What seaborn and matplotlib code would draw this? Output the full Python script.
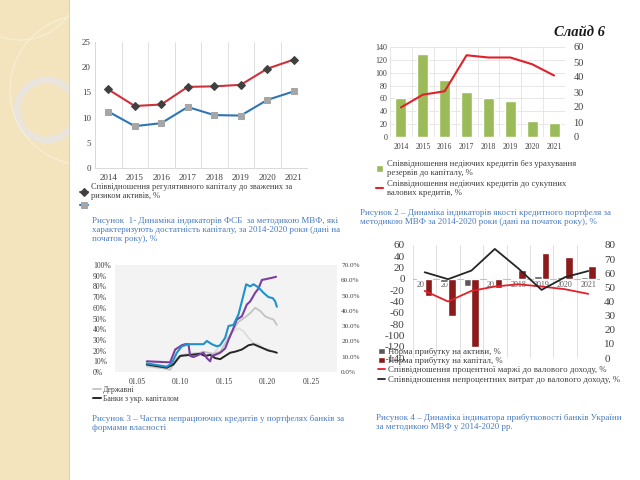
import numpy as np
import pandas as pd
import matplotlib
matplotlib.use('Agg')
import matplotlib.pyplot as plt
import seaborn as sns
from matplotlib.patches import Rectangle, Circle

# ---------------- data ----------------
years = ['2014', '2015', '2016', '2017', '2018', '2019', '2020', '2021']

# Chart 1 – capital adequacy
c1_reg_capital = [15.6, 12.3, 12.6, 16.1, 16.2, 16.5, 19.7, 21.5]
c1_tier1 = [11.2, 8.3, 8.9, 12.1, 10.5, 10.4, 13.5, 15.2]

# Chart 2 – loan quality
c2_npl_to_capital = [61, 129, 89, 70, 60, 56, 25, 22]
c2_npl_to_loans = [19.7, 28.2, 30.5, 54.5, 53, 53, 48.5, 41]

# Chart 3 – NPL share by ownership (decimal year, %)
c3_purple_t = [2006.15, 2008.83, 2009.41, 2010.17, 2010.56, 2010.94, 2011.13, 2011.51, 2012.09, 2012.66,
               2013.05, 2013.43, 2013.62, 2014.0, 2014.58, 2015.15, 2015.54, 2016.11, 2016.49, 2017.07,
               2017.64, 2018.03, 2018.6, 2018.98, 2019.37, 2019.94, 2020.52, 2021.0]
c3_purple_v = [10, 9, 21, 25, 26, 26, 15, 14, 16, 18, 13, 10, 15, 16, 18, 22, 30, 41, 49, 52,
               63, 66, 74, 78, 86, 87, 88, 89]
c3_blue_t = [2006.15, 2006.92, 2008.45, 2009.02, 2009.6, 2010.17, 2010.94, 2011.9, 2012.66, 2013.05,
             2013.62, 2014.2, 2014.58, 2015.15, 2015.54, 2016.11, 2016.69, 2017.07, 2017.57, 2018.03,
             2018.41, 2018.98, 2019.56, 2020.13, 2020.63, 2020.9, 2021.09]
c3_blue_v = [8, 7, 5, 8, 18, 24, 26, 26, 26, 29, 26, 24, 25, 32, 43, 44, 54, 66, 82, 80,
             82, 79, 74, 70, 69, 66, 61]
c3_state_t = [2006.15, 2008.45, 2008.83, 2009.6, 2010.17, 2011.51, 2012.66, 2013.81, 2014.58, 2015.34,
              2016.11, 2016.69, 2017.26, 2018.03, 2018.6, 2019.18, 2019.75, 2020.33, 2020.71, 2021.09]
c3_state_v = [6, 3, 2, 13, 16, 16, 19, 17, 19, 29, 40, 47, 50, 55, 60, 57, 52, 50, 49, 44]
c3_light_t = [2006.15, 2008.45, 2009.6, 2010.56, 2011.9, 2012.85, 2013.81, 2014.96, 2015.92, 2016.69,
              2017.26, 2017.84, 2018.41, 2018.98, 2019.56, 2020.33]
c3_light_v = [5, 3, 12, 17, 18, 16, 17, 29, 37, 41, 38, 32, 27, 26, 22, 21]
c3_ukr_t = [2006.15, 2008.45, 2009.21, 2009.98, 2011.13, 2012.28, 2012.85, 2013.43, 2014.0, 2014.58,
            2015.15, 2015.73, 2016.3, 2017.07, 2017.84, 2018.41, 2018.98, 2019.56, 2020.13, 2020.71, 2021.09]
c3_ukr_v = [7, 4, 7, 15, 16, 17, 15, 16, 13, 12, 15, 18, 19, 21, 25, 26, 24, 22, 20, 19, 18]
c3_xticks = [2005, 2010, 2015, 2020, 2025]
c3_xlabels = ['01.05', '01.10', '01.15', '01.20', '01.25']

# Chart 4 – profitability
c4_roa = [-2.5, -4.7, -12.6, -1.9, 1.7, 4.3, 3.7, 2.5]
c4_roe = [-30, -65, -120, -16, 16, 46, 38, 22]
c4_margin = [47.5, 40, 47.5, 50.6, 52.2, 50.6, 48.7, 45.4]
c4_nonint = [60.7, 55.8, 61.9, 77.2, 63.5, 48.2, 57.2, 61.6]

# ---------------- setup ----------------
sns.set_theme(style='white')
plt.rcParams['font.family'] = ['Liberation Serif', 'DejaVu Serif']
plt.rcParams['axes.unicode_minus'] = False

W, H = 640, 480
fig = plt.figure(figsize=(6.4, 4.8), dpi=100)
fig.patch.set_facecolor('white')


def axpx(l, t, r, b):
    return fig.add_axes([l / W, 1 - b / H, (r - l) / W, (b - t) / H])


def fx(x):
    return x / W


def fy(y):
    return 1 - y / H


def drop_legend(ax):
    lg = ax.get_legend()
    if lg is not None:
        lg.remove()


CAP = '#4a7dc0'
TXT = '#404040'
CAPSIZE = 6.5

# ---------------- decorative left strip ----------------
deco = fig.add_axes([0, 0, 70 / W, 1])
deco.set_xlim(0, 70)
deco.set_ylim(480, 0)
deco.axis('off')
deco.add_patch(Rectangle((0, 0), 70, 480, color='#f3e4bd', zorder=0))
deco.add_patch(Circle((47, 110), 30, fill=False, ec='#e9e5dc', lw=5, zorder=1))
deco.add_patch(Circle((85, 90), 75, fill=False, ec='#f9efd8', lw=0.8, zorder=1))
deco.add_patch(Circle((20, -20), 60, fill=False, ec='#f9efd8', lw=0.8, zorder=1))
deco.axvline(69.5, color='#ddcfa4', lw=1.2)

# ---------------- chart 1 ----------------
ax1 = axpx(95, 42, 307, 168)
idx = list(range(len(years)))
sns.lineplot(x=idx, y=c1_reg_capital, ax=ax1, color='#d0313b', lw=1.5, marker='D', markersize=4,
             markerfacecolor='#404040', markeredgecolor='#404040',
             label='Співвідношення регулятивного капіталу до зважених за\nризиком активів, %')
sns.lineplot(x=idx, y=c1_tier1, ax=ax1, color='#2e75b6', lw=1.5, marker='s', markersize=5,
             markerfacecolor='#a6a6a6', markeredgecolor='#a6a6a6', label=' ')
h1, l1 = ax1.get_legend_handles_labels()
drop_legend(ax1)
ax1.set_xlim(-0.5, 7.5)
ax1.set_ylim(0, 25)
ax1.set_yticks(range(0, 26, 5))
ax1.set_xticks(idx)
ax1.set_xticklabels(years)
ax1.set_xticks(np.arange(-0.5, 8, 1), minor=True)
ax1.grid(False)
ax1.grid(which='minor', axis='x', color='#d9d9d9', lw=0.6)
for s in ['top', 'right']:
    ax1.spines[s].set_visible(False)
for s in ['left', 'bottom']:
    ax1.spines[s].set_color('#d9d9d9')
    ax1.spines[s].set_linewidth(0.7)
ax1.tick_params(which='both', length=0, labelsize=6.5, colors=TXT)
ax1.tick_params(axis='y', pad=3)
ax1.tick_params(axis='x', pad=4)
fig.legend(h1, l1, loc='upper left', bbox_to_anchor=(fx(80), fy(183)), frameon=False, fontsize=6,
           handlelength=1.0, labelspacing=0.25, handletextpad=0.3, borderpad=0, borderaxespad=0,
           labelcolor=TXT)
fig.text(fx(92), fy(217), 'Рисунок  1- Динаміка індикаторів ФСБ  за методикою МВФ, які\n'
         'характеризують достатність капіталу, за 2014-2020 роки (дані на\n'
         'початок року), %', ha='left', va='top', fontsize=CAPSIZE, color=CAP, linespacing=1.2)

# ---------------- chart 2 ----------------
ax2 = axpx(390, 47, 565, 137)
sns.barplot(x=years, y=c2_npl_to_capital, ax=ax2, color='#9bbb59', width=0.5, saturation=1,
            label='Співвідношення недіючих кредитів без урахування\nрезервів до капіталу, %', zorder=2)
ax2b = ax2.twinx()
sns.lineplot(x=idx, y=c2_npl_to_loans, ax=ax2b, color='#e0202b', lw=1.5,
             label='Співвідношення недіючих кредитів до сукупних\nвалових кредитів, %')
h2a, l2a = ax2.get_legend_handles_labels()
h2b, l2b = ax2b.get_legend_handles_labels()
drop_legend(ax2)
drop_legend(ax2b)
ax2.set_xlim(-0.5, 7.5)
ax2.set_ylim(0, 140)
ax2.set_yticks(range(0, 141, 20))
ax2b.set_ylim(0, 60)
ax2b.set_yticks(range(0, 61, 10))
ax2.set_xticks(np.arange(-0.5, 8, 1), minor=True)
ax2.grid(False)
ax2b.grid(False)
ax2.grid(which='major', axis='y', color='#e3e3e3', lw=0.6, zorder=0)
ax2.grid(which='minor', axis='x', color='#e3e3e3', lw=0.6, zorder=0)
ax2.set_axisbelow(True)
for a in (ax2, ax2b):
    for s in a.spines.values():
        s.set_visible(False)
    a.set_xlabel('')
    a.set_ylabel('')
ax2.tick_params(which='both', length=0, labelsize=5.8, colors=TXT)
ax2.tick_params(axis='y', pad=2)
ax2.tick_params(axis='x', pad=4, labelsize=5.5)
ax2b.tick_params(length=0, labelsize=7.5, pad=6, colors=TXT)
fig.legend(h2a + h2b, l2a + l2b, loc='upper left', bbox_to_anchor=(fx(376), fy(160)), frameon=False,
           fontsize=6.2, handlelength=0.8, handleheight=0.8, labelspacing=0.3, handletextpad=0.5,
           borderpad=0, borderaxespad=0, labelcolor=TXT)
fig.text(fx(360), fy(209), 'Рисунок 2 – Динаміка індикаторів якості кредитного портфеля за\n'
         'методикою МВФ за 2014-2020 роки (дані на початок року), %',
         ha='left', va='top', fontsize=CAPSIZE, color=CAP, linespacing=1.2)

fig.text(fx(580), fy(33), 'Слайд 6', ha='center', va='center', fontsize=10.5, fontweight='bold',
         style='italic', color='#1a1a1a')

# ---------------- chart 3 ----------------
ax3 = axpx(115, 265, 337, 372)
ax3.set_facecolor('#f3f3f3')
sns.lineplot(x=c3_light_t, y=c3_light_v, ax=ax3, color='#dcdcdc', lw=1.2, sort=False,
             estimator=None, label='_light')
sns.lineplot(x=c3_state_t, y=c3_state_v, ax=ax3, color='#c3c3c3', lw=1.3, sort=False,
             estimator=None, label='Державні')
sns.lineplot(x=c3_ukr_t, y=c3_ukr_v, ax=ax3, color='#262626', lw=1.4, sort=False,
             estimator=None, label='Банки з укр. капіталом')
sns.lineplot(x=c3_purple_t, y=c3_purple_v, ax=ax3, color='#7b3fa0', lw=1.5, sort=False,
             estimator=None, label='_purple')
sns.lineplot(x=c3_blue_t, y=c3_blue_v, ax=ax3, color='#1f93c9', lw=1.5, sort=False,
             estimator=None, label='_blue')
h3, l3 = ax3.get_legend_handles_labels()
drop_legend(ax3)
ax3.set_xlim(2002.5, 2028.0)
ax3.set_ylim(0, 100)
ax3.set_yticks(range(0, 101, 10))
ax3.set_yticklabels([f'{v}%' for v in range(0, 101, 10)])
for lab in ax3.get_yticklabels():
    lab.set_horizontalalignment('left')
ax3.set_xticks(c3_xticks)
ax3.set_xticklabels(c3_xlabels)
ax3.grid(False)
for s in ax3.spines.values():
    s.set_visible(False)
ax3.tick_params(length=0, labelsize=5.5, colors=TXT)
ax3.tick_params(axis='y', pad=16)
ax3.tick_params(axis='x', pad=4)
ax3b = ax3.twinx()
ax3b.set_ylim(0, 70)
ax3b.set_yticks(range(0, 71, 10))
ax3b.set_yticklabels([f'{v:.1f}%' for v in range(0, 71, 10)])
ax3b.grid(False)
for s in ax3b.spines.values():
    s.set_visible(False)
ax3b.tick_params(length=0, labelsize=5.2, pad=3, colors=TXT)
fig.legend(h3, l3, loc='upper left', bbox_to_anchor=(fx(93), fy(386)), frameon=False, fontsize=5.6,
           handlelength=1.0, labelspacing=0.15, handletextpad=0.3, borderpad=0, borderaxespad=0,
           labelcolor=TXT)
fig.text(fx(92), fy(415), 'Рисунок 3 – Частка непрацюючих кредитів у портфелях банків за\n'
         'формами власності', ha='left', va='top', fontsize=CAPSIZE, color=CAP, linespacing=1.2)

# ---------------- chart 4 ----------------
ax4 = axpx(413, 245, 600, 358)
df4 = pd.DataFrame({
    'year': years * 2,
    'val': c4_roa + c4_roe,
    'series': ['Норма прибутку на активи, %'] * len(years) + ['Норма прибутку на капітал, %'] * len(years),
})
sns.barplot(data=df4, x='year', y='val', hue='series', palette=['#595959', '#8b1a1a'], width=0.65,
            saturation=1, ax=ax4, zorder=2)
h4a, l4a = ax4.get_legend_handles_labels()
drop_legend(ax4)
ax4.set_xlim(-0.5, 7.5)
ax4.set_ylim(-140, 60)
ax4.set_yticks(range(-140, 61, 20))
ax4.set_yticklabels([str(v) for v in range(-140, 61, 20)])
ax4.set_xticks(np.arange(-0.5, 8, 1), minor=True)
ax4.set_xticks(idx)
ax4.set_xticklabels([])
ax4.grid(False)
ax4.grid(which='minor', axis='x', color='#dcdcdc', lw=0.6, zorder=0)
ax4.set_axisbelow(True)
ax4.axhline(0, color='#bfbfbf', lw=0.8, zorder=1.5)
for i, yr in enumerate(years):
    ax4.text(i, -4, yr, ha='center', va='top', fontsize=5.8, color='#595959', zorder=1)
ax4.set_xlabel('')
ax4.set_ylabel('')
ax4b = ax4.twinx()
sns.lineplot(x=idx, y=c4_margin, ax=ax4b, color='#e0202b', lw=1.3,
             label='Співвідношення процентної маржі до валового доходу, %')
sns.lineplot(x=idx, y=c4_nonint, ax=ax4b, color='#262626', lw=1.3,
             label='Співвідношення непроцентних витрат до валового доходу, %')
h4b, l4b = ax4b.get_legend_handles_labels()
drop_legend(ax4b)
ax4b.set_ylim(0, 80)
ax4b.set_yticks(range(0, 81, 10))
ax4b.set_xlim(-0.5, 7.5)
ax4b.grid(False)
for a in (ax4, ax4b):
    for s in a.spines.values():
        s.set_visible(False)
ax4.tick_params(which='both', length=0, labelsize=8, colors=TXT)
ax4.tick_params(axis='y', pad=6)
ax4b.tick_params(length=0, labelsize=8, pad=3, colors=TXT)
ax4b.set_ylabel('')
fig.legend(h4a + h4b, l4a + l4b, loc='upper left', bbox_to_anchor=(fx(378), fy(348)), frameon=False,
           fontsize=6.3, handlelength=0.8, handleheight=0.7, labelspacing=0.12, handletextpad=0.4,
           borderpad=0, borderaxespad=0, labelcolor=TXT)
fig.text(fx(376), fy(414), 'Рисунок 4 – Динаміка індикатора прибутковості банків України\n'
         'за методикою МВФ у 2014-2020 рр.', ha='left', va='top', fontsize=CAPSIZE, color=CAP,
         linespacing=1.2)

fig.savefig('out.png', dpi=100)
